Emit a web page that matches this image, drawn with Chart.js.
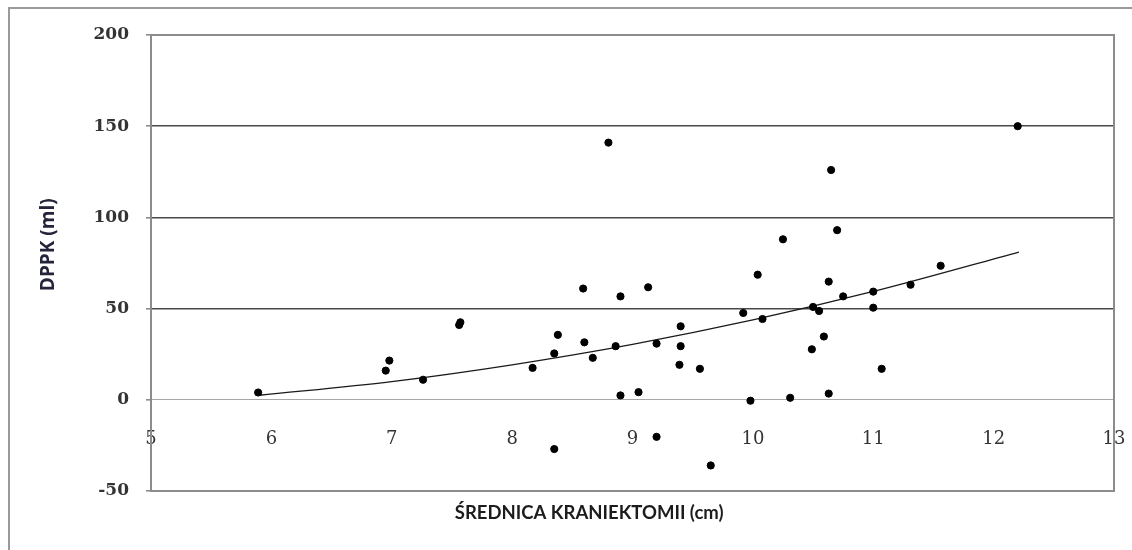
<!DOCTYPE html>
<html>
<head>
<meta charset="utf-8">
<script src="https://cdn.jsdelivr.net/npm/chart.js@4/dist/chart.umd.min.js"></script>
<style>
  html, body { margin: 0; padding: 0; background: #fff; }
  #wrap { position: relative; width: 1132px; height: 550px; }
  #frame { position: absolute; left: 8px; top: 7px; right: -4px; bottom: -4px;
           border-top: 2px solid #9a9a9a; border-left: 2px solid #9a9a9a; }
  canvas { position: absolute; left: 0; top: 0; }
</style>
</head>
<body>
<div id="wrap">
  <div id="frame"></div>
  <canvas id="chart" width="1132" height="550"></canvas>
</div>
<script>
// crane diameter (cm) vs DPPK (ml)
const diameters = [
  5.89, 6.95, 6.98, 7.26, 7.56, 7.57, 8.17, 8.35, 8.38, 8.35,
  8.59, 8.60, 8.67, 8.80, 8.86, 8.90, 8.90, 9.05, 9.13, 9.20,
  9.20, 9.39, 9.40, 9.40, 9.56, 9.65, 9.92, 9.98, 10.04, 10.08,
  10.25, 10.31, 10.49, 10.50, 10.55, 10.59, 10.63, 10.63, 10.65, 10.70,
  10.75, 11.00, 11.00, 11.07, 11.31, 11.56, 12.20
];
const dppk = [
  4, 16, 21.5, 11, 41, 42.5, 17.5, 25.4, 35.6, -27,
  61, 31.5, 23, 141, 29.4, 56.7, 2.4, 4.2, 61.7, 30.8,
  -20.3, 19.2, 40.3, 29.4, 17, -36, 47.6, -0.5, 68.6, 44.3,
  88, 1.1, 27.7, 50.9, 48.7, 34.7, 64.8, 3.4, 126, 93,
  56.7, 59.3, 50.5, 17, 63.1, 73.5, 150
];

// trend curve
const trendX = [5.9, 7, 8, 9, 10, 11, 12.21];
const trendY = [2.5, 10, 19.2, 30.4, 43.8, 59.4, 81];

const xTicks = [5, 6, 7, 8, 9, 10, 11, 12, 13];
const yTicks = [-50, 0, 50, 100, 150, 200];

const points = diameters.map((x, i) => ({ x, y: dppk[i] }));
const trend = trendX.map((x, i) => ({ x, y: trendY[i] }));

const plotFrame = {
  id: 'plotFrame',
  afterDatasetsDraw(chart) {
    const { ctx, chartArea: a } = chart;
    ctx.save();
    ctx.strokeStyle = '#8c8c8c';
    ctx.lineWidth = 2;
    ctx.strokeRect(a.left, a.top, a.right - a.left, a.bottom - a.top);
    ctx.restore();
  }
};

const axisTitles = {
  id: 'axisTitles',
  afterDraw(chart) {
    const { ctx, chartArea: a } = chart;
    ctx.save();
    ctx.fillStyle = '#1c1c1c';
    ctx.font = 'bold 18.5px Lato, "Open Sans", sans-serif';
    ctx.textAlign = 'center';
    ctx.textBaseline = 'middle';
    ctx.fillText('ŚREDNICA KRANIEKTOMII (cm)', a.left + (a.right - a.left) * 0.455, a.bottom + 22);
    ctx.translate(49, a.top + (a.bottom - a.top) * 0.46);
    ctx.rotate(-Math.PI / 2);
    ctx.fillStyle = '#23233a';
    ctx.font = 'bold 19px "Open Sans", Lato, sans-serif';
    ctx.fillText('DPPK (ml)', 0, 0);
    ctx.restore();
  }
};

new Chart(document.getElementById('chart'), {
  type: 'scatter',
  data: {
    datasets: [
      {
        label: 'DPPK',
        data: points,
        backgroundColor: '#000',
        borderColor: '#000',
        pointRadius: 3.6,
        pointHoverRadius: 3.6,
        order: 1
      },
      {
        label: 'trend',
        type: 'line',
        data: trend,
        borderColor: '#1a1a1a',
        borderWidth: 1.3,
        pointRadius: 0,
        fill: false,
        cubicInterpolationMode: 'monotone',
        order: 2
      }
    ]
  },
  options: {
    responsive: false,
    animation: false,
    layout: { padding: { left: 0, top: 35, right: 18, bottom: 59 } },
    plugins: { legend: { display: false }, tooltip: { enabled: false } },
    scales: {
      x: {
        type: 'linear',
        position: { y: 0 },
        min: 5,
        max: 13,
        afterBuildTicks: s => { s.ticks = xTicks.map(v => ({ value: v })); },
        // end labels may hang past the plot edge
        afterFit: s => { s.paddingLeft = 0; s.paddingRight = 0; },
        grid: { display: false, drawTicks: false },
        border: { display: true, color: '#a6a6a6', width: 1 },
        ticks: {
          padding: 29,
          color: '#333',
          font: { family: '"DejaVu Serif", "Liberation Serif", serif', size: 18 }
        }
      },
      y: {
        min: -50,
        max: 200,
        afterBuildTicks: s => { s.ticks = yTicks.map(v => ({ value: v })); },
        afterFit: s => { s.width = 151; },
        grid: {
          color: ctx => {
            const v = ctx.tick && ctx.tick.value;
            return (v === 50 || v === 100 || v === 150) ? '#4a4a4a' : 'rgba(0,0,0,0)';
          },
          lineWidth: 1.6,
          tickColor: '#8c8c8c',
          tickLength: 5
        },
        border: { display: true, color: '#8c8c8c', width: 2 },
        ticks: {
          padding: 17,
          color: '#333',
          font: { family: '"DejaVu Serif", "Liberation Serif", serif', size: 17, weight: 'bold' }
        }
      }
    }
  },
  plugins: [plotFrame, axisTitles]
});
</script>
</body>
</html>
